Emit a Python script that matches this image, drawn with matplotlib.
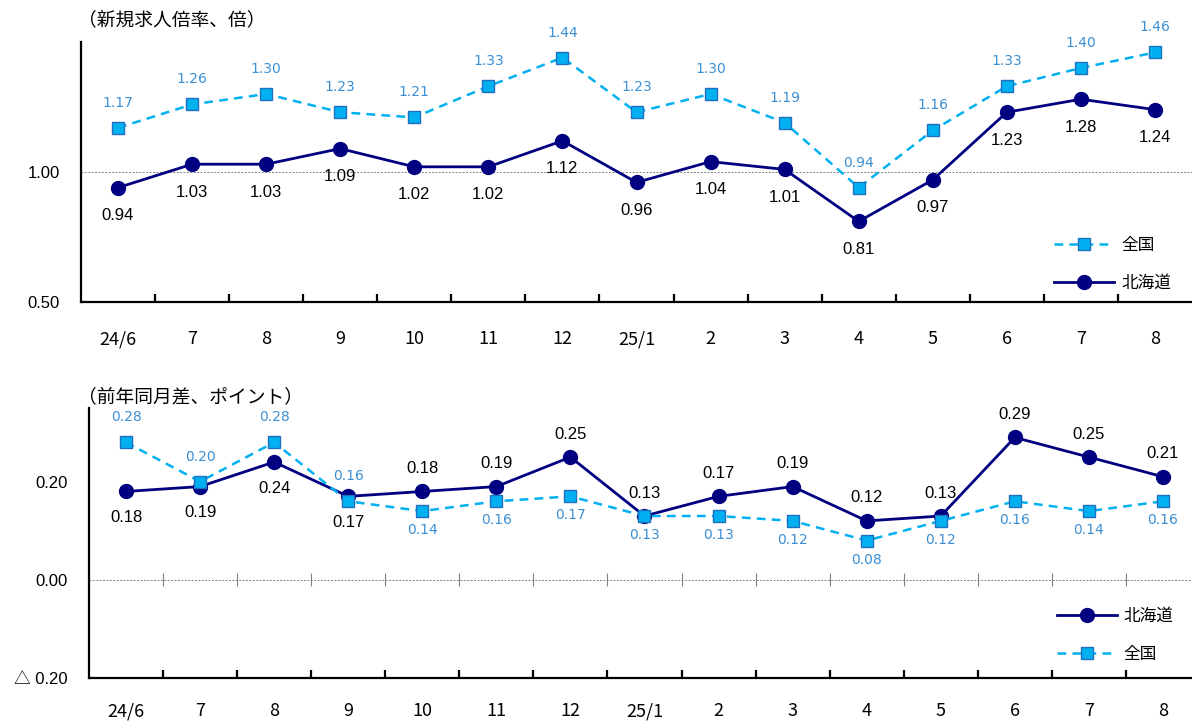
import matplotlib
matplotlib.use("Agg")
import matplotlib.pyplot as plt
import numpy as np

plt.rcParams['font.family'] = ['Liberation Sans', 'Noto Sans CJK JP', 'DejaVu Sans']

months = ["24/6", "7", "8", "9", "10", "11", "12", "25/1", "2", "3", "4", "5", "6", "7", "8"]
hokkaido_ratio = [0.94, 1.03, 1.03, 1.09, 1.02, 1.02, 1.12, 0.96, 1.04, 1.01, 0.81, 0.97, 1.23, 1.28, 1.24]
national_ratio = [1.17, 1.26, 1.30, 1.23, 1.21, 1.33, 1.44, 1.23, 1.30, 1.19, 0.94, 1.16, 1.33, 1.40, 1.46]
hokkaido_diff = [0.18, 0.19, 0.24, 0.17, 0.18, 0.19, 0.25, 0.13, 0.17, 0.19, 0.12, 0.13, 0.29, 0.25, 0.21]
national_diff = [0.28, 0.20, 0.28, 0.16, 0.14, 0.16, 0.17, 0.13, 0.13, 0.12, 0.08, 0.12, 0.16, 0.14, 0.16]
# label placement: +1 above, -1 below
hokkaido_diff_pos = [-1, -1, -1, -1, 1, 1, 1, 1, 1, 1, 1, 1, 1, 1, 1]
national_diff_pos = [1, 1, 1, 1, -1, -1, -1, -1, -1, -1, -1, -1, -1, -1, -1]

NAVY = '#000080'
LBLUE = '#00b0f0'
SQEDGE = '#1f70c1'
LBLTXT = '#3b8fd4'
CJK = ['Noto Sans CJK JP', 'DejaVu Sans']
NUM = ['Liberation Sans', 'Noto Sans CJK JP']
NATF = ['DejaVu Sans']

fig = plt.figure(figsize=(11.92, 7.22), dpi=100)
x = np.arange(len(months))


def px(p):
    return p * 0.72


def style_axes(ax, ylim, yticks, yticklabels, zero, xpad):
    ax.set_xlim(-0.5, len(months) - 0.5)
    ax.set_ylim(*ylim)
    for s in ['top', 'right']:
        ax.spines[s].set_visible(False)
    for s in ['left', 'bottom']:
        ax.spines[s].set_linewidth(1.6)
        ax.spines[s].set_color('black')
    ax.set_yticks(yticks)
    ax.set_yticklabels(yticklabels, fontsize=12, family=NUM)
    ax.tick_params(axis='y', length=0, pad=px(21))
    ax.set_xticks(x)
    ax.set_xticklabels(months, fontsize=13, family=CJK)
    ax.tick_params(axis='x', which='major', length=0, pad=xpad)
    ax.set_xticks(np.arange(0.5, len(months) - 0.5), minor=True)
    ax.tick_params(axis='x', which='minor', direction='in', length=6, width=1.6, color='black')
    ax.axhline(zero, color='#808080', lw=0.7, ls=(0, (2, 1.5)), zorder=1)


def label(ax, xi, v, dy_px, color, size, fam):
    ax.annotate(f'{v:.2f}', (xi, v), xytext=(0, px(dy_px)), textcoords='offset points',
                ha='center', va='center', fontsize=size, color=color, family=fam)


# ---------------- top chart ----------------
ax1 = fig.add_axes([81 / 1192, 0.5817, 1111 / 1192, 0.3601])
style_axes(ax1, (0.5, 1.5), [0.5, 1.0], ['0.50', '1.00'], 1.0, px(28))
l_nat, = ax1.plot(x, national_ratio, color=LBLUE, lw=1.8, ls=(0, (3.5, 2.5)), marker='s', ms=9,
                  mfc=LBLUE, mec=SQEDGE, mew=1.0, label='全国', zorder=3)
l_hok, = ax1.plot(x, hokkaido_ratio, color=NAVY, lw=2.0, marker='o', ms=10,
                  mfc=NAVY, mec=NAVY, label='北海道', zorder=4)
for xi, v in zip(x, national_ratio):
    label(ax1, xi, v, 25, LBLTXT, 10, NATF)
for xi, v in zip(x, hokkaido_ratio):
    label(ax1, xi, v, -28, 'black', 12, NUM)
ax1.legend(handles=[l_nat, l_hok], loc='lower right', bbox_to_anchor=(0.99, 0.0),
           frameon=False, prop={'family': CJK, 'size': 12}, handlelength=3.6, labelspacing=1.25,
           borderaxespad=0.2, handletextpad=0.4)
fig.text(78 / 1192, 1 - 20 / 722, '（新規求人倍率、倍）', fontsize=13.5, ha='left', va='center',
         family=CJK)

# ---------------- bottom chart ----------------
ax2 = fig.add_axes([89 / 1192, 0.0609, 1111 / 1192, 0.374])
style_axes(ax2, (-0.2, 0.35), [-0.2, 0.0, 0.2], ['△ 0.20', '0.00', '0.20'], 0.0, px(24))
ax2.vlines(np.arange(0.5, len(months) - 0.5), -0.013, 0.013, color='#808080', lw=0.8, zorder=1)
b_hok, = ax2.plot(x, hokkaido_diff, color=NAVY, lw=2.0, marker='o', ms=10,
                  mfc=NAVY, mec=NAVY, label='北海道', zorder=3)
b_nat, = ax2.plot(x, national_diff, color=LBLUE, lw=1.8, ls=(0, (3.5, 2.5)), marker='s', ms=9,
                  mfc=LBLUE, mec=SQEDGE, mew=1.0, label='全国', zorder=4)
for xi, v, p in zip(x, national_diff, national_diff_pos):
    label(ax2, xi, v, 25 if p > 0 else -19, LBLTXT, 10, NATF)
for xi, v, p in zip(x, hokkaido_diff, hokkaido_diff_pos):
    label(ax2, xi, v, 23 if p > 0 else -26, 'black', 12, NUM)
ax2.legend(handles=[b_hok, b_nat], loc='lower right', bbox_to_anchor=(0.985, 0.02),
           frameon=False, prop={'family': CJK, 'size': 12}, handlelength=3.6, labelspacing=1.25,
           borderaxespad=0.2, handletextpad=0.4)
fig.text(78 / 1192, 1 - 397 / 722, '（前年同月差、ポイント）', fontsize=13.5, ha='left', va='center',
         family=CJK)

fig.savefig('out.png', dpi=100)
